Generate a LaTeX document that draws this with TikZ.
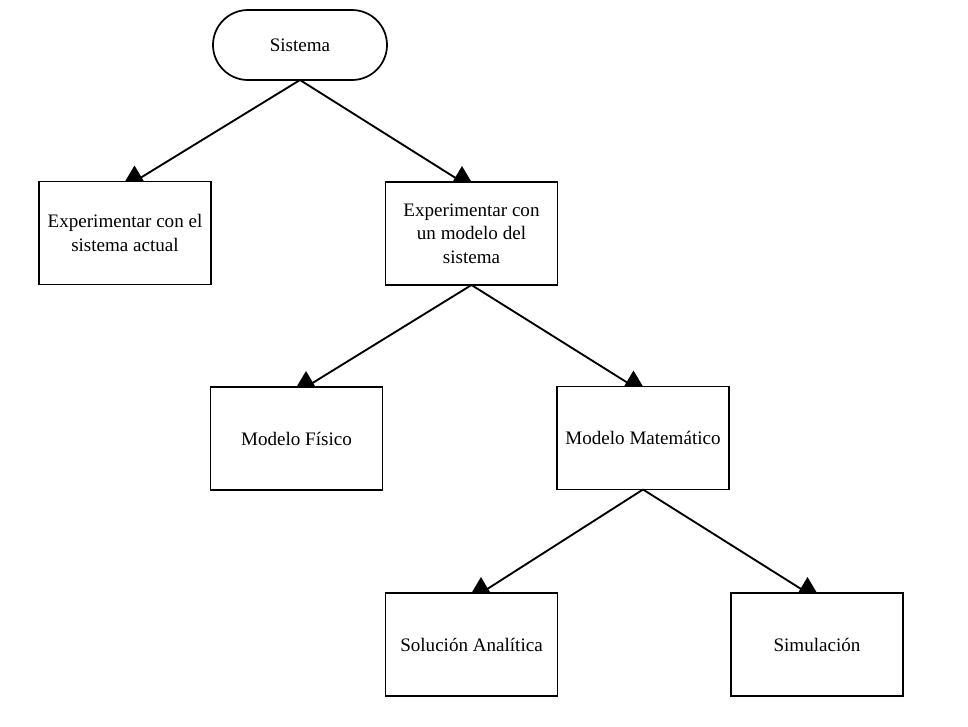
\documentclass[tikz,border=0pt]{standalone}
\usepackage{fontspec}
\setmainfont{Liberation Serif}
\usetikzlibrary{calc,shapes.misc}
\begin{document}
\begin{tikzpicture}[x=0.75pt,y=-0.75pt,
  every node/.style={font=\fontsize{14.3pt}{17.5pt}\selectfont, align=center, inner sep=0pt, outer sep=0pt},
  boxnode/.style={draw, line width=1.3pt, minimum width=129pt, minimum height=77.25pt},
  termnode/.style={draw, line width=1.3pt, rounded rectangle, minimum width=130.5pt, minimum height=52.5pt},
  conn/.style={line width=1.4pt},
  tipfill/.style={fill=black}]
\useasboundingbox (0,0) rectangle (968,726);
\node[termnode] (sis) at (300,45) {Sistema};
\node[boxnode] (b1) at (125,233) {Experimentar con el\\sistema actual};
\node[boxnode] (b2) at (471.5,233.5) {Experimentar con\\un modelo del\\sistema};
\node[boxnode] (b3) at (296.5,438.5) {Modelo Físico};
\node[boxnode] (b4) at (643,438) {Modelo Matemático};
\node[boxnode] (b5) at (471.5,644.5) {Solución Analítica};
\node[boxnode] (b6) at (817,644.5) {Simulación};
\coordinate (t1) at ($(b1.north)+(9.5,0)$);
\coordinate (t2) at ($(b2.north)+(-9.5,0)$);
\coordinate (t3) at ($(b3.north)+(9.5,0)$);
\coordinate (t4) at ($(b4.north)+(-9.5,0)$);
\coordinate (t5) at ($(b5.north)+(9.5,0)$);
\coordinate (t6) at ($(b6.north)+(-9.5,0)$);
\draw[conn] (sis.south) -- (t1);
\draw[conn] (sis.south) -- (t2);
\draw[conn] (b2.south) -- (t3);
\draw[conn] (b2.south) -- (t4);
\draw[conn] (b4.south) -- (t5);
\draw[conn] (b4.south) -- (t6);
\foreach \t in {t1,t2,t3,t4,t5,t6}{
  \fill[tipfill] (\t) ++(-9.5,0) -- ++(19,0) -- ++(-9.5,-16) -- cycle;
}
\end{tikzpicture}
\end{document}
